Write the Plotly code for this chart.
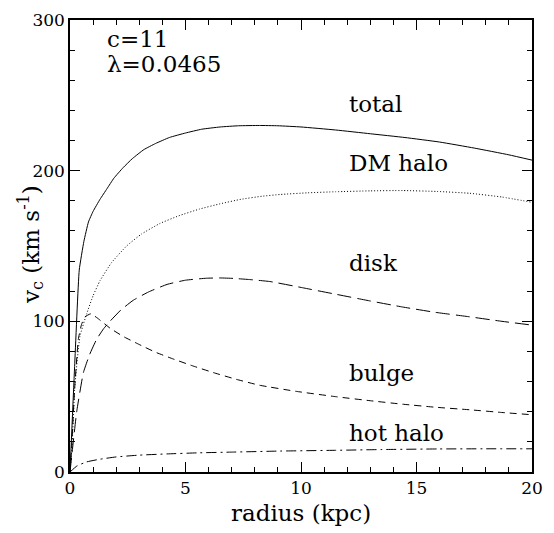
import plotly.graph_objects as go

total_x = [0, 0.2, 0.4, 0.6, 0.8, 1.0, 1.3, 1.6, 1.9, 2.3, 2.7, 3.2, 3.7, 4.3, 5, 5.7, 6.5, 7.3, 8.2, 9, 10, 11.5, 13, 14.5, 16, 17.5, 19, 20]
total_v = [0, 70, 134, 153, 166, 173, 181, 188, 195, 202, 208, 214, 218, 222, 225, 227.5, 229, 229.8, 230, 229.8, 229, 227, 224.5, 222, 219, 215, 210.5, 207]

dm_x = [0, 0.1, 0.2, 0.43, 0.72, 1, 1.3, 1.8, 2.45, 3.1, 3.9, 4.7, 5.6, 6.5, 7.4, 8.3, 9.1, 10.3, 11.5, 13, 14.4, 15.9, 17.3, 18.7, 20]
dm_v = [0, 20, 55, 90, 105, 117, 127, 139, 150, 158, 165, 170, 174.5, 178, 181, 183, 184.2, 185.3, 186, 186.6, 186.8, 186.2, 185, 182.5, 179]

disk_x = [0, 0.07, 0.29, 0.58, 0.85, 1.15, 1.45, 1.73, 2.2, 2.74, 3.4, 4.2, 5, 5.9, 6.5, 7.06, 7.8, 8.66, 10, 11.5, 13, 14.4, 15.8, 17.3, 18.7, 20]
disk_v = [0, 10, 40, 66, 78, 88, 95, 100, 107.5, 114, 119.5, 124.5, 127.3, 128.6, 128.8, 128.5, 127.7, 126.4, 122.5, 118, 113.5, 109.5, 106, 103, 100, 97.5]

bulge_x = [0, 0.07, 0.2, 0.36, 0.5, 0.65, 0.9, 1.2, 1.73, 2.3, 3.0, 3.7, 4.47, 5.3, 6.2, 7.2, 8.2, 9.8, 11.5, 13, 14.4, 15.8, 17.3, 18.7, 20]
bulge_v = [0, 16, 55, 88, 98, 103, 105, 102, 95.5, 90, 84.6, 79.5, 75, 70.5, 66, 61.5, 57.6, 53.5, 50, 47.3, 45, 43, 41.3, 39.5, 38]

hot_x = [0, 0.3, 0.72, 1.3, 2, 3, 4.2, 5.5, 7, 9.1, 11.5, 13.5, 15.9, 18, 20]
hot_v = [0, 4, 6.7, 8.5, 10, 11.2, 12, 12.7, 13.2, 13.9, 14.4, 14.9, 15.3, 15.4, 15.4]

labels = ["total", "DM halo", "disk", "bulge", "hot halo"]
label_y = [244, 205, 139, 66, 26]

FONT = "DejaVu Serif"

fig = go.Figure()
series = [
    (total_x, total_v, "solid"),
    (dm_x, dm_v, "1px,2px"),
    (disk_x, disk_v, "14px,6px"),
    (bulge_x, bulge_v, "7px,5px"),
    (hot_x, hot_v, "10px,4px,2px,4px"),
]
for xs, vs, dash in series:
    fig.add_trace(go.Scatter(x=xs, y=vs, mode="lines",
                             line=dict(color="black", width=1, dash=dash, shape="spline", smoothing=0.4),
                             showlegend=False, hoverinfo="skip"))

for lab, ly in zip(labels, label_y):
    fig.add_annotation(x=12, y=ly, text=lab, showarrow=False, xanchor="left", yanchor="middle",
                       font=dict(family=FONT, size=23, color="black"))

fig.add_annotation(x=1.5, y=287.5, text="c=11", showarrow=False, xanchor="left", yanchor="middle",
                   font=dict(family=FONT, size=23, color="black"))
fig.add_annotation(x=1.5, y=270.6, text="λ=0.0465", showarrow=False, xanchor="left", yanchor="middle",
                   font=dict(family=FONT, size=23, color="black"))

fig.add_annotation(xref="paper", yref="paper", x=(30 - 70) / 462, y=(472 - 240) / 462,
                   text="v<sub>c</sub> (km s<sup>-1</sup>)", textangle=-90, showarrow=False,
                   xanchor="center", yanchor="middle", font=dict(family=FONT, size=23, color="black"))
fig.add_annotation(xref="paper", yref="paper", x=(301 - 70) / 462, y=(472 - 514) / 462,
                   text="radius (kpc)", showarrow=False,
                   xanchor="center", yanchor="middle", font=dict(family=FONT, size=23, color="black"))

axis_common = dict(showline=True, linecolor="black", linewidth=1.5, mirror="allticks",
                   ticks="inside", tickcolor="black", tickwidth=1, ticklen=10,
                   showgrid=False, zeroline=False,
                   tickfont=dict(family=FONT, size=17, color="black"))

fig.update_xaxes(range=[0, 20], dtick=5, tick0=0,
                 minor=dict(ticks="inside", dtick=1, ticklen=5, tickcolor="black", showgrid=False),
                 **axis_common)
fig.update_yaxes(range=[0, 300], dtick=100, tick0=0,
                 minor=dict(ticks="inside", dtick=20, ticklen=5, tickcolor="black", showgrid=False),
                 **axis_common)

fig.update_layout(width=554, height=533, margin=dict(l=70, r=22, t=10, b=61),
                  plot_bgcolor="white", paper_bgcolor="white")

fig.write_html("out.html")
